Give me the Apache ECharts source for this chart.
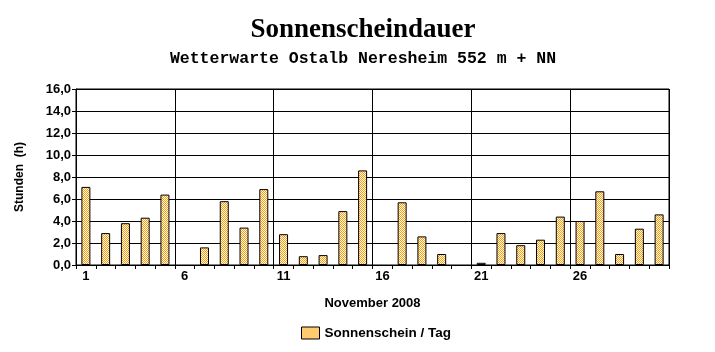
<!DOCTYPE html>
<html>
<head>
<meta charset="utf-8">
<script src="https://cdn.jsdelivr.net/npm/echarts@6/dist/echarts.min.js"></script>
<style>
html,body{margin:0;padding:0;background:#fff;}
#chart{width:715px;height:352px;}
</style>
</head>
<body>
<div id="chart"></div>
<script>
var days = [];
for (var d = 1; d <= 30; d++) days.push(String(d));
var sunshineHours = [7.1, 2.9, 3.8, 4.3, 6.4, 0, 1.6, 5.8, 3.4, 6.9,
                     2.8, 0.8, 0.9, 4.9, 8.6, 0, 5.7, 2.6, 1.0, 0,
                     0.2, 2.9, 1.8, 2.3, 4.4, 4.0, 6.7, 1.0, 3.3, 4.6];
var titleText = 'Sonnenscheindauer';
var subtitleText = 'Wetterwarte Ostalb Neresheim 552 m + NN';
var seriesName = 'Sonnenschein / Tag';
var xAxisName = 'November 2008';
var yAxisName = 'Stunden  (h)';

function makePattern() {
  var pc = document.createElement('canvas');
  pc.width = 2; pc.height = 2;
  var ctx = pc.getContext('2d');
  ctx.fillStyle = '#FFFFFF'; ctx.fillRect(0,0,2,2);
  ctx.fillStyle = '#FF9C00'; ctx.fillRect(0,0,1,1); ctx.fillRect(1,1,1,1);
  return {image: pc, repeat: 'repeat'};
}

var barData = sunshineHours.map(function (v) { return v === 0 ? '-' : v; });

var chart = echarts.init(document.getElementById('chart'), null, {renderer: 'canvas'});
chart.setOption({
  animation: false,
  backgroundColor: '#fff',
  title: [{
    text: titleText,
    left: 358, top: 12, textAlign: 'center',
    textStyle: {fontFamily: 'Liberation Serif', fontWeight: 'bold', fontSize: 27, color: '#000'}
  }, {
    text: subtitleText,
    left: 358, top: 45, textAlign: 'center',
    textStyle: {fontFamily: 'Liberation Mono', fontWeight: 'bold', fontSize: 16.5, color: '#000'}
  }],
  legend: {
    data: [{name: seriesName, icon: 'rect', itemStyle: {color: '#FFCA70', borderColor: '#000', borderWidth: 1}}],
    left: 296, top: 321,
    itemWidth: 18, itemHeight: 12, itemGap: 6,
    textStyle: {fontFamily: 'Liberation Sans', fontWeight: 'bold', fontSize: 13.5, color: '#000'}
  },
  grid: {left: 76, right: 46, top: 89, bottom: 87, show: true, borderColor: '#000', borderWidth: 1},
  xAxis: {
    type: 'category',
    data: days,
    boundaryGap: true,
    name: xAxisName,
    nameLocation: 'middle',
    nameGap: 32,
    nameTextStyle: {fontFamily: 'Liberation Sans', fontWeight: 'bold', fontSize: 13, color: '#000'},
    axisLine: {lineStyle: {color: '#000', width: 1}},
    axisTick: {show: true, interval: 0, length: 4, lineStyle: {color: '#000'}},
    axisLabel: {interval: 4, fontFamily: 'Liberation Sans', fontWeight: 'bold', fontSize: 13, color: '#000', margin: 5},
    splitLine: {show: true, interval: 4, lineStyle: {color: '#000', width: 1}}
  },
  yAxis: {
    type: 'value',
    min: 0, max: 16, interval: 2,
    name: yAxisName,
    nameLocation: 'middle',
    nameGap: 50,
    nameTextStyle: {fontFamily: 'Liberation Sans', fontWeight: 'bold', fontSize: 12, color: '#000'},
    axisLine: {show: true, lineStyle: {color: '#000', width: 1}},
    axisTick: {show: true, length: 4, lineStyle: {color: '#000'}},
    axisLabel: {
      fontFamily: 'Liberation Sans', fontWeight: 'bold', fontSize: 13, color: '#000', margin: 5,
      formatter: function (v) { return v.toFixed(1).replace('.', ','); }
    },
    splitLine: {show: true, lineStyle: {color: '#000', width: 1}}
  },
  series: [{
    name: seriesName,
    type: 'bar',
    data: barData,
    barWidth: 9,
    itemStyle: {color: makePattern(), borderColor: '#000', borderWidth: 1}
  }]
});
</script>
</body>
</html>
